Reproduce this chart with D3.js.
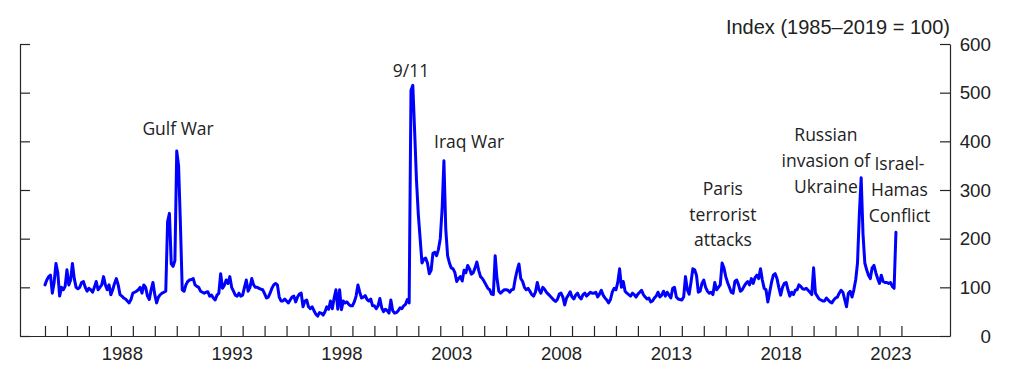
<!DOCTYPE html>
<html>
<head>
<meta charset="utf-8">
<script src="https://cdn.jsdelivr.net/npm/d3@7"></script>
<style>
  html, body { margin: 0; padding: 0; background: #fff; }
  svg { display: block; }
</style>
</head>
<body>
<div id="chart"></div>
<script>
// ---- Data (monthly geopolitical risk index, 1985–2019 = 100) ----
const startYear = 1985;
const gpr1980s = [ // 1985–1989
  105,115,122,125,88,110,149,130,82,100,95,102,
  136,105,115,149,118,100,97,100,110,112,100,92,
  98,95,90,100,112,95,100,105,122,105,95,105,
  85,95,108,118,105,85,82,78,76,72,68,75,
  88,90,92,95,100,88,105,100,82,75,95,110
];
const gpr1990s = [ // 1990–1999
  85,68,80,85,88,90,92,235,252,148,143,155,
  380,350,230,95,92,105,112,115,116,118,105,102,
  100,92,90,88,90,91,82,84,78,74,84,88,
  128,98,104,115,108,122,100,92,84,82,88,82,
  84,100,115,92,100,118,105,100,100,98,96,95,
  87,78,80,88,98,105,108,105,80,72,72,76,
  72,68,74,80,82,70,80,86,88,60,72,74,
  60,56,60,52,45,41,48,47,43,50,60,55,
  72,56,78,95,55,95,54,72,68,70,65,62,
  62,70,82,105,90,78,80,83,75,72,76,62
];
const gpr2000s = [ // 2000–2009
  62,56,62,77,58,50,55,52,47,74,52,47,
  48,52,58,56,62,65,75,68,505,515,420,320,
  250,200,150,158,160,150,128,135,170,172,165,178,
  200,260,360,220,165,150,140,138,130,112,118,122,
  113,135,130,145,138,127,130,140,152,135,122,118,
  112,105,98,95,86,85,165,118,92,88,92,95,
  95,94,90,95,96,118,135,148,118,112,100,95,
  98,92,85,82,90,110,95,88,100,96,90,86,
  82,78,74,71,75,86,88,80,64,78,84,91,
  80,76,84,88,80,76,85,88,82,86,90,88
];
const gpr2010s = [ // 2010–2019
  88,90,80,86,94,84,78,74,68,75,90,98,
  95,110,138,100,112,92,88,85,82,88,85,80,
  86,90,94,85,80,76,78,70,72,78,82,90,
  80,84,92,82,90,84,78,98,100,80,76,75,
  74,80,122,95,86,110,138,136,125,90,92,108,
  115,100,92,88,90,85,110,95,100,105,150,140,
  122,110,100,90,88,112,115,105,92,95,102,108,
  112,105,118,108,120,125,118,138,115,98,95,70,
  90,110,125,128,118,100,84,100,108,110,95,82,
  90,85,94,95,105,102,97,96,98,94,90,85
];
const gpr2020s = [ // 2020–Oct 2023
  140,88,82,76,74,72,72,78,74,70,68,74,
  78,80,88,94,90,75,60,88,92,80,95,115,
  150,250,325,210,150,136,125,118,140,145,130,118,
  108,125,112,110,110,108,110,102,98,213
];

const tickYears = d3.range(1985, 2025);
const labelYears = [1988, 1993, 1998, 2003, 2008, 2013, 2018, 2023];
const yTicks = [0, 100, 200, 300, 400, 500, 600];
const axisTitle = "Index (1985–2019 = 100)";

// Annotations: anchor (year, index value) of first line
const annoLines = [["Gulf War"], ["9/11"], ["Iraq War"], ["Paris", "terrorist", "attacks"],
                   ["Russian", "invasion of", "Ukraine"], ["Israel-", "Hamas", "Conflict"]];
const annoYear  = [1991.06, 2001.67, 2004.31, 2015.87, 2020.56, 2023.91];
const annoValue = [413, 533, 386, 290, 400, 341];

// ---- Build series ----
const allValues = [].concat(gpr1980s, gpr1990s, gpr2000s, gpr2010s, gpr2020s);
const series = allValues.map((v, i) => ({ t: startYear + i / 12, v }));

// ---- Layout ----
const W = 1024, H = 391;
const svg = d3.select("#chart").append("svg").attr("width", W).attr("height", H);

const x = d3.scaleLinear().domain([1983.862, 2026.212]).range([20, 950]);
const y = d3.scaleLinear().domain([0, 600]).range([336, 44]);

const axisColor = "#262626";
const tickFont = "'Liberation Sans', Arial, sans-serif";
const annoFont = "'Open Sans', 'Noto Sans', sans-serif";

// Bottom axis ticks (inward) + spine
const gx = svg.append("g").attr("transform", `translate(0,${y(0)})`)
  .call(d3.axisBottom(x).tickValues(tickYears).tickSize(-10).tickSizeOuter(0).tickFormat(""));
gx.selectAll("line, path").attr("stroke", axisColor).attr("stroke-width", 1.2);

// Bottom axis labels centered mid-year
const gxl = svg.append("g").attr("transform", `translate(0,${y(0)})`)
  .call(d3.axisBottom(x).tickValues(labelYears.map(d => d + 0.5)).tickSize(0).tickPadding(11)
    .tickFormat(d => String(Math.floor(d))));
gxl.select(".domain").remove();
gxl.selectAll("text").attr("font-family", tickFont).attr("font-size", 18.5).attr("fill", "#222");

// Left axis (ticks only)
const gl = svg.append("g").attr("transform", `translate(${x.range()[0]},0)`)
  .call(d3.axisLeft(y).tickValues(yTicks).tickSize(-10).tickSizeOuter(0).tickFormat(""));
gl.selectAll("line, path").attr("stroke", axisColor).attr("stroke-width", 1.2);

// Right axis with labels
const gr = svg.append("g").attr("transform", `translate(${x.range()[1]},0)`)
  .call(d3.axisRight(y).tickValues(yTicks).tickSize(-10).tickSizeOuter(0).tickPadding(10));
gr.selectAll("line, path").attr("stroke", axisColor).attr("stroke-width", 1.2);
gr.selectAll("text").attr("font-family", tickFont).attr("font-size", 18.8).attr("fill", "#222")
  .attr("text-anchor", "end").attr("x", 41);

// Axis title
svg.append("text").attr("x", x.range()[1]).attr("y", 34)
  .attr("text-anchor", "end").attr("font-family", tickFont).attr("font-size", 20).attr("fill", "#222")
  .text(axisTitle);

// Line
const line = d3.line().x(d => x(d.t)).y(d => y(d.v));
svg.append("path").datum(series)
  .attr("fill", "none").attr("stroke", "#0000ff").attr("stroke-width", 3)
  .attr("stroke-linejoin", "round").attr("stroke-linecap", "round")
  .attr("d", line);

// Annotations
annoLines.forEach((lines, i) => {
  const t = svg.append("text").attr("x", x(annoYear[i])).attr("y", y(annoValue[i]))
    .attr("text-anchor", "middle").attr("font-family", annoFont).attr("font-size", 17.5).attr("fill", "#222");
  lines.forEach((s, j) => {
    t.append("tspan").attr("x", x(annoYear[i])).attr("dy", j === 0 ? 0 : 25.8).text(s);
  });
});
</script>
</body>
</html>
